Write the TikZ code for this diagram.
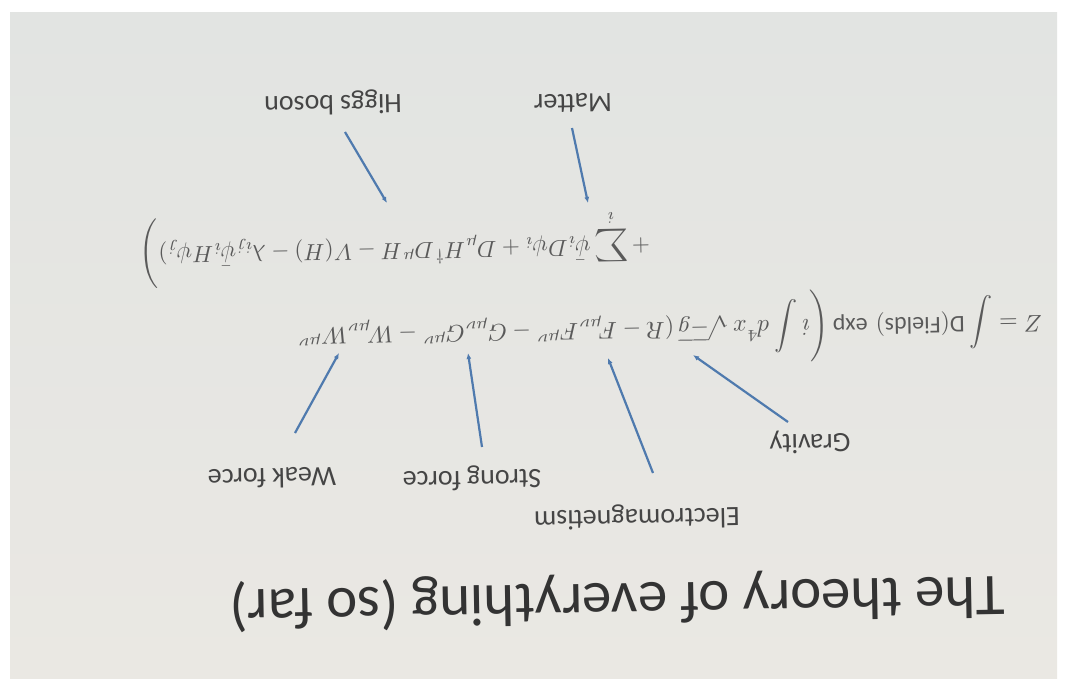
\documentclass[tikz,border=0pt]{standalone}
\usepackage{amsmath}
\usepackage{fontspec}
\setmainfont{Carlito}
\usepackage{tikz}
\usetikzlibrary{calc}
\usetikzlibrary{arrows.meta}
\definecolor{linkColor}{HTML}{4F7AAE}
\definecolor{inkColor}{HTML}{454545}
\definecolor{headColor}{HTML}{333333}
\definecolor{mathColor}{HTML}{5A5A5A}
\definecolor{slideTop}{HTML}{E2E4E2}
\definecolor{slideMid}{HTML}{F4F4F1}
\definecolor{slideBottom}{HTML}{EAE8E3}

\begin{document}
\begin{tikzpicture}[
		x=1pt, y=-1pt,
		link/.style={-{Latex[length=6pt,width=5pt]}, draw=linkColor, line width=2.2pt},
		term/.style={rotate=181, inner sep=0pt, text=inkColor, font=\fontsize{28}{30}\selectfont},
		heading/.style={rotate=181, inner sep=0pt, text=headColor, font=\fontsize{59}{64}\selectfont},
		formula/.style={rotate=181, inner sep=0pt, text=mathColor},
	]
	\useasboundingbox (0,0) rectangle (1069,688);
	% Photographed slide
	\fill[white] (0,0) rectangle (1069,688);
	\shade[top color=slideTop, middle color=slideMid, bottom color=slideBottom] (10,12) rectangle (1057,678);
	% Title and formula
	\node[heading] (heading) at (617,600) {The theory of everything (so far)};
	\node[formula] (action) at (670,328) {\resizebox{745pt}{!}{$\displaystyle Z = \int \mathrm{D}(\mathrm{Fields})\,\exp\Bigg(i\int d^4x\,\sqrt{-g}\,(R - F_{\mu\nu}F^{\mu\nu} - G_{\mu\nu}G^{\mu\nu} - W_{\mu\nu}W^{\mu\nu}$}};
	\node[formula] (matter part) at (395,249) {\resizebox{510pt}{!}{$\displaystyle + \sum_i \bar\psi_i D\psi_i + D_\mu H^\dagger D^\mu H - V(H) - \lambda_{ij}\bar\psi_i H\psi_j)\Bigg)$}};
	% Terms
	\node[term] (gravity) at (810,442) {Gravity};
	\node[term] (em) at (637,517) {Electromagnetism};
	\node[term] (strong) at (472,478) {Strong force};
	\node[term] (weak) at (272,478) {Weak force};
	\node[term] (higgs) at (333,103) {Higgs boson};
	\node[term] (matter) at (573,103) {Matter};
	% Points in the formula
	\coordinate (gravity head) at (693,355);
	\coordinate (em head) at (608,358);
	\coordinate (strong head) at (468,353);
	\coordinate (weak head) at (339,353);
	\coordinate (higgs head) at (387,203);
	\coordinate (matter head) at (588,203);
	% Arrows
	\draw[link] ($(gravity)+(-22,-20)$) -- (gravity head);
	\draw[link] ($(em)+(16,-44)$) -- (em head);
	\draw[link] ($(strong)+(10,-31)$) -- (strong head);
	\draw[link] ($(weak)+(23,-45)$) -- (weak head);
	\draw[link] ($(higgs)+(12,29)$) -- (higgs head);
	\draw[link] ($(matter)+(-1,25)$) -- (matter head);
\end{tikzpicture}
\end{document}
